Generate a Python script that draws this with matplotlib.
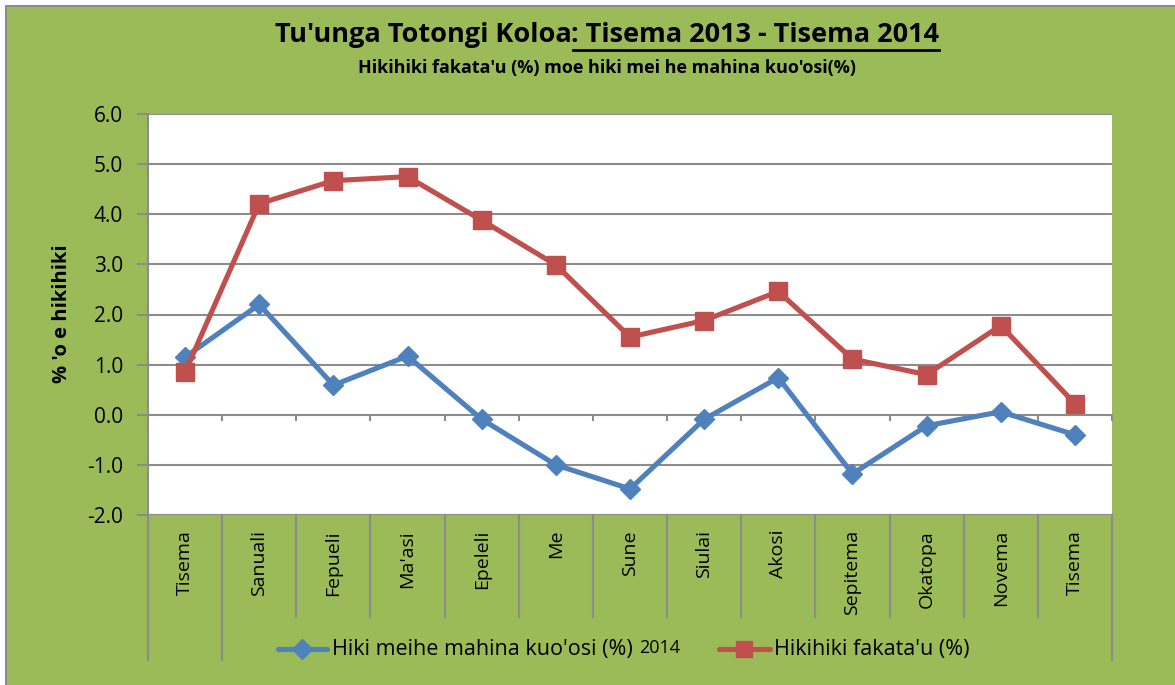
import matplotlib
matplotlib.use("Agg")
import matplotlib.pyplot as plt
from matplotlib.patches import Rectangle
from matplotlib.lines import Line2D

categories = ["Tisema", "Sanuali", "Fepueli", "Ma'asi", "Epeleli", "Me", "Sune",
              "Siulai", "Akosi", "Sepitema", "Okatopa", "Novema", "Tisema"]
monthly = [1.15, 2.2, 0.59, 1.17, -0.09, -1.0, -1.48, -0.09, 0.74, -1.18, -0.22, 0.06, -0.40]
annual = [0.85, 4.21, 4.67, 4.75, 3.88, 2.99, 1.55, 1.88, 2.46, 1.11, 0.80, 1.78, 0.22]
yticks = [-2.0, -1.0, 0.0, 1.0, 2.0, 3.0, 4.0, 5.0, 6.0]
series_names = ["Hiki meihe mahina kuo'osi (%)", "Hikihiki fakata'u (%)"]

GREEN = "#9BBB59"
BLUE = "#4F81BD"
RED = "#C0504D"
GRAY = "#8C8C8C"
FONT = "Open Sans"

W, H = 1175, 685
fig = plt.figure(figsize=(W / 100, H / 100), dpi=100)
fig.patch.set_facecolor("white")

# green chart background with gray border at top/left
bg = Rectangle((6 / W, -0.05), 1.1, 1.05 - 6 / H, transform=fig.transFigure,
               facecolor=GREEN, edgecolor=GRAY, linewidth=1.5, zorder=-10)
fig.patches.append(bg)

def fx(px):
    return px / W

def fy(py):
    return 1 - py / H

x0, x1, y0, y1 = 148, 1112, 114, 515
ax = fig.add_axes([fx(x0), fy(y1), fx(x1) - fx(x0), fy(y0) - fy(y1)])
ax.set_zorder(2)
ax.set_facecolor("white")
n = len(categories)
xs = list(range(n))
ax.set_xlim(-0.5, n - 0.5)
ax.set_ylim(-2, 6)
ax.set_yticks(yticks)
ax.set_yticklabels([f"{v:.1f}" for v in yticks], fontsize=15, family=FONT)
ax.tick_params(axis="y", length=8, color=GRAY, width=1.5, pad=10)
ax.set_xticks([])
for s in ["top", "right", "bottom"]:
    ax.spines[s].set_visible(False)
ax.spines["left"].set_color(GRAY)
ax.spines["left"].set_linewidth(1.5)
for v in yticks:
    ax.axhline(v, color=GRAY, lw=1.5, zorder=1)
# category tick marks on zero line
for b in range(1, n + 1):
    ax.plot([b - 0.5, b - 0.5], [0, -0.1], color=GRAY, lw=1.5, zorder=1, clip_on=False)

ax.plot(xs, monthly, color=BLUE, lw=3.7, marker="D", markersize=10,
        markeredgecolor=BLUE, zorder=3, clip_on=False)
ax.plot(xs, annual, color=RED, lw=3.7, marker="s", markersize=13,
        markeredgecolor=RED, zorder=4, clip_on=False)

# category label cells
xt = ax.get_xaxis_transform()
ph = y1 - y0
short = -(617 - y1) / ph
long_ = -(660 - y1) / ph
for b in range(0, n + 1):
    yb = long_ if b in (0, 1, n) else short
    ax.plot([b - 0.5, b - 0.5], [0, yb], color=GRAY, lw=1.5, transform=xt, clip_on=False)
for i, c in enumerate(categories):
    ax.text(i, -(530 - y1) / ph, c, rotation=90, ha="center", va="top",
            fontsize=14, family=FONT, transform=xt)

# y label
fig.text(fx(62), fy(314), "% 'o e hikihiki", rotation=90, ha="center", va="center",
         fontsize=14.5, fontweight="bold", family=FONT)

# title with underlined part
fig.canvas.draw()
r = fig.canvas.get_renderer()
t1 = fig.text(0, fy(35), "Tu'unga Totongi Koloa", fontsize=19.5, fontweight="bold",
              family=FONT, va="center", ha="left")
t2 = fig.text(0, fy(35), ": Tisema 2013 - Tisema 2014", fontsize=19.5, fontweight="bold",
              family=FONT, va="center", ha="left")
w1 = t1.get_window_extent(r).width
w2 = t2.get_window_extent(r).width
start = 607 - (w1 + w2) / 2
t1.set_x(fx(start))
t2.set_x(fx(start + w1))
fig.add_artist(Line2D([fx(start + w1 + 2), fx(start + w1 + w2)], [fy(50), fy(50)],
                      color="black", lw=2, transform=fig.transFigure))
fig.text(fx(607), fy(68), "Hikihiki fakata'u (%) moe hiki mei he mahina kuo'osi(%)",
         fontsize=13, fontweight="bold", family=FONT, ha="center", va="center")

# legend
ly = fy(649)
fig.add_artist(Line2D([fx(278), fx(327)], [ly, ly], color=BLUE, lw=3.7,
                      transform=fig.transFigure, solid_capstyle="round"))
fig.add_artist(Line2D([fx(302)], [ly], color=BLUE, marker="D", markersize=10,
                      transform=fig.transFigure))
lt = fig.text(fx(332), ly, series_names[0], fontsize=15.5, family=FONT, ha="left", va="center")
fig.canvas.draw()
lw_ = lt.get_window_extent(r).width
fig.text(fx(332 + lw_ + 6), fy(648), "2014", fontsize=13, family=FONT, ha="left", va="center")
fig.add_artist(Line2D([fx(719), fx(770)], [ly, ly], color=RED, lw=3.7,
                      transform=fig.transFigure, solid_capstyle="round"))
fig.add_artist(Line2D([fx(744)], [ly], color=RED, marker="s", markersize=12,
                      transform=fig.transFigure))
fig.text(fx(774), ly, series_names[1], fontsize=15.5, family=FONT, ha="left", va="center")

fig.savefig("out.png", dpi=100, facecolor=fig.get_facecolor())
